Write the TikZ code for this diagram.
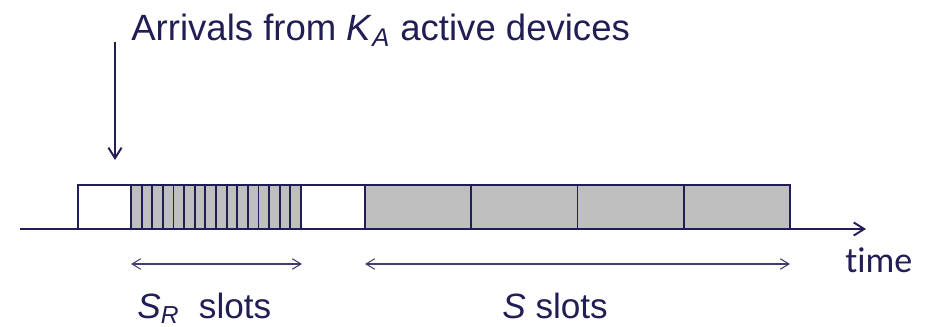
\documentclass[tikz,border=0pt]{standalone}
\usepackage{fontspec}
\setmainfont{Liberation Sans}
\newfontfamily\axisfont[Ligatures=NoCommon]{Carlito}
\usetikzlibrary{arrows.meta, positioning}
\definecolor{mInk}{HTML}{211D55}
\definecolor{mSlot}{HTML}{BFBFBF}

\begin{document}
\begin{tikzpicture}[x=0.02cm, y=-0.02cm, >={Straight Barb[length=6pt, width=7.5pt]},
  slot/.style={draw=mInk, line width=1.1pt, fill=mSlot},
  idle/.style={draw=mInk, line width=1.1pt, fill=white},
  span/.style={<->, mInk!85, line width=0.6pt, >={Straight Barb[length=5pt, width=6pt]}},
  lbl/.style={text=mInk, inner sep=0pt, font=\fontsize{20}{24}\selectfont}]
  \useasboundingbox (0,0) rectangle (928,327);
  % frame: guard slot, S_R short slots, guard slot, S long slots
  \draw[idle] (78,185) rectangle (131,229);
  \foreach \i in {0,...,15}
    \draw[slot] ({131+\i*170/16},185) rectangle ({131+(\i+1)*170/16},229);
  \draw[idle] (301,185) rectangle (365,229);
  \foreach \i in {0,...,3}
    \draw[slot] ({365+\i*106.25},185) rectangle ({365+(\i+1)*106.25},229);
  % time axis
  \coordinate (t0) at (20,229);
  \coordinate (t1) at (866,229);
  \draw[->, mInk, line width=1.1pt] (t0) -- (t1);
  \node[lbl, anchor=base west, font=\axisfont\fontsize{20.5}{24}\selectfont] (time) at (845,272) {time};
  % arrivals
  \node[lbl, anchor=base west, font=\fontsize{20.8}{25}\selectfont] (arr) at (131,41)
    {Arrivals from \textit{K}\textsubscript{\textit{A}} active devices};
  \coordinate (a0) at (115,42);
  \coordinate (a1) at (115,160);
  \draw[->, mInk, line width=1.1pt] (a0) -- (a1);
  % durations
  \coordinate (r0) at (131,264);
  \coordinate (r1) at (302,264);
  \coordinate (s0) at (365,264);
  \coordinate (s1) at (790,264);
  \draw[span] (r0) -- (r1);
  \draw[span] (s0) -- (s1);
  \node[lbl, anchor=base west] (srlbl) at (137,318) {\textit{S}\textsubscript{\textit{R}}\ \ slots};
  \node[lbl, anchor=base west] (slbl) at (502,318) {\textit{S} slots};
\end{tikzpicture}
\end{document}
